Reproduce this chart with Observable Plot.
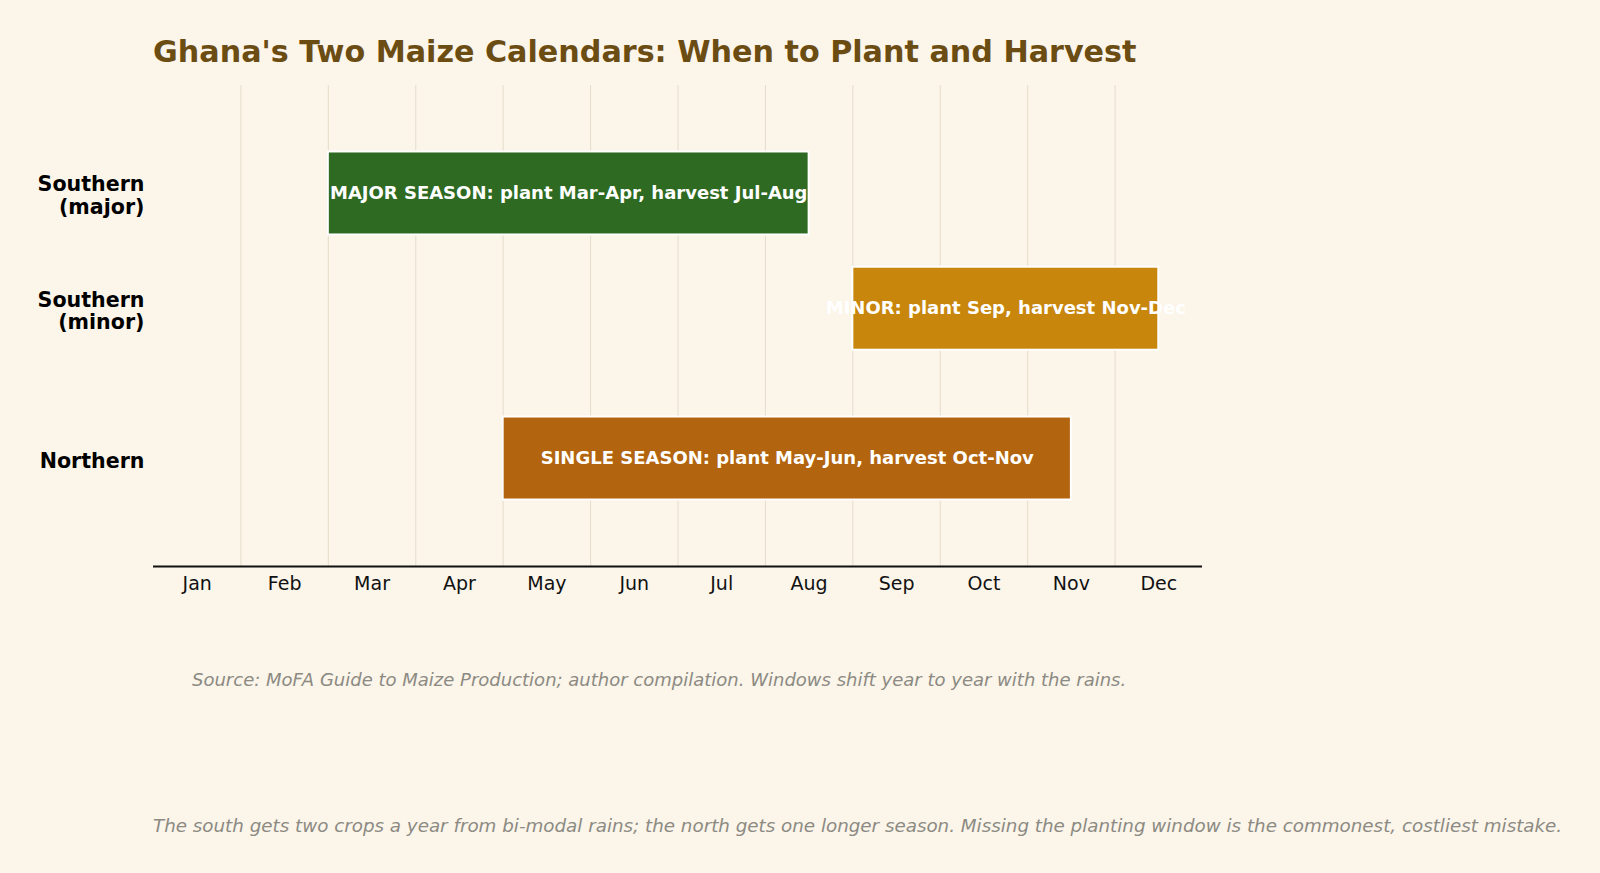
<!DOCTYPE html>
<html>
<head>
<meta charset="utf-8">
<script src="https://cdn.jsdelivr.net/npm/d3@7"></script>
<script src="https://cdn.jsdelivr.net/npm/@observablehq/plot@0.6"></script>
<style>
  html, body { margin: 0; padding: 0; background: #FBF5EA; }
  #page { position: relative; width: 1600px; height: 873px; background: #FBF5EA; overflow: hidden; font-family: "DejaVu Sans", sans-serif; }
  #title { position: absolute; left: 153px; top: 34px; font-size: 30.2px; font-weight: bold; color: #6B4C12; white-space: nowrap; }
  #chart { position: absolute; left: 0; top: 0; }
  .note { position: absolute; font-style: italic; color: #8C8A82; white-space: nowrap; }
  #source { left: 192px; top: 669px; font-size: 18px; }
  #foot { left: 153px; top: 815px; font-size: 18.3px; }
</style>
</head>
<body>
<div id="page">
  <div id="chart"></div>
  <div id="title">Ghana's Two Maize Calendars: When to Plant and Harvest</div>
  <div class="note" id="source">Source: MoFA Guide to Maize Production; author compilation. Windows shift year to year with the rains.</div>
  <div class="note" id="foot">The south gets two crops a year from bi-modal rains; the north gets one longer season. Missing the planting window is the commonest, costliest mistake.</div>
</div>
<script>
// ---- data ----
const months = ["Jan","Feb","Mar","Apr","May","Jun","Jul","Aug","Sep","Oct","Nov","Dec"];
const zones = ["Southern\n(major)", "Southern\n(minor)", "Northern"];
const zoneLane = [2.3, 1.3, 0];          // lane position of each zone on the y axis
const seasonStart = [2.5, 8.5, 4.5];     // month units (Jan = 1)
const seasonEnd = [8.0, 12.0, 11.0];
const seasonLabels = [
  "MAJOR SEASON: plant Mar-Apr, harvest Jul-Aug",
  "MINOR: plant Sep, harvest Nov-Dec",
  "SINGLE SEASON: plant May-Jun, harvest Oct-Nov"
];
const seasonColors = ["#2E6A21", "#C8860C", "#B3640E"];

const rows = zones.map((z, i) => ({
  zone: z, lane: zoneLane[i], start: seasonStart[i], end: seasonEnd[i],
  label: seasonLabels[i], color: seasonColors[i]
}));
const monthIdx = months.map((m, i) => i + 1);
const boundaries = months.slice(1).map((m, i) => i + 1.5);
const halfBar = 0.36;

const chart = Plot.plot({
  width: 1600,
  height: 620,
  marginLeft: 153,
  marginRight: 398,
  marginTop: 85,
  marginBottom: 54,
  style: { background: "transparent", fontFamily: "DejaVu Sans, sans-serif", color: "#000" },
  x: { domain: [0.5, 12.5] },
  y: { domain: [-0.937, 3.237] },
  marks: [
    Plot.gridX({ ticks: boundaries, stroke: "#E6DCCB", strokeOpacity: 1, strokeWidth: 1 }),
    Plot.rect(rows, {
      x1: "start", x2: "end",
      y1: d => d.lane - halfBar, y2: d => d.lane + halfBar,
      fill: d => d.color, stroke: "white", strokeWidth: 2
    }),
    Plot.text(rows, {
      x: d => (d.start + d.end) / 2, y: "lane", text: "label",
      fill: "#FFFFFF", fontSize: 18, fontWeight: "bold"
    }),
    Plot.axisX({
      ticks: monthIdx, tickFormat: i => months[i - 1], tickSize: 0, tickPadding: 10,
      fontSize: 19, label: null, fill: "#111"
    }),
    Plot.axisY({
      ticks: zoneLane, tickFormat: v => zones[zoneLane.indexOf(v)], tickSize: 0, tickPadding: 9,
      fontSize: 20.6, fontWeight: "bold", lineHeight: 1.08, label: null, fill: "#000", dy: 2
    }),
    Plot.ruleY([-0.937], { stroke: "#111", strokeWidth: 2 })
  ]
});
document.getElementById("chart").appendChild(chart);
</script>
</body>
</html>
